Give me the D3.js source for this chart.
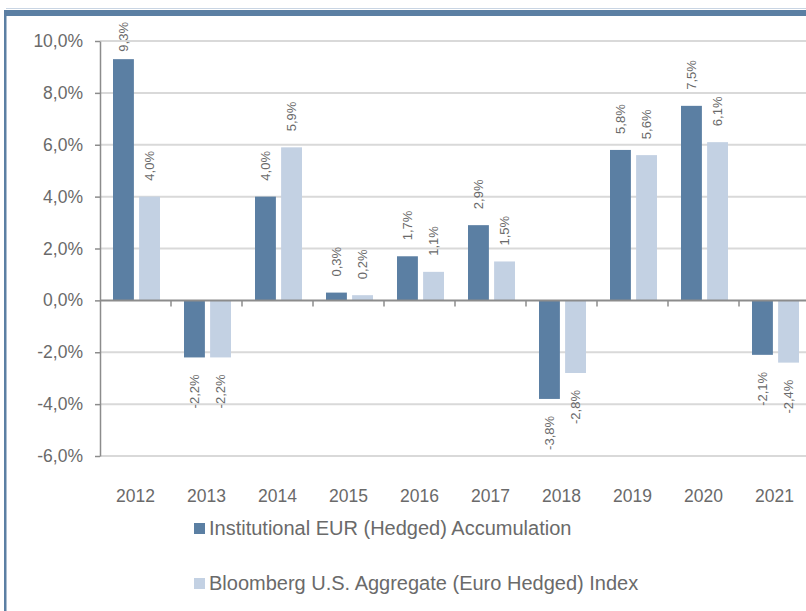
<!DOCTYPE html>
<html>
<head>
<meta charset="utf-8">
<script src="https://cdn.jsdelivr.net/npm/d3@7"></script>
<style>
  body { margin: 0; background: #fff; }
  svg { display: block; font-family: "Liberation Sans", Arial, sans-serif; }
</style>
</head>
<body>
<svg id="chart" width="806" height="611"></svg>
<script>
const years = ["2012", "2013", "2014", "2015", "2016", "2017", "2018", "2019", "2020", "2021"];
const seriesNames = ["Institutional EUR (Hedged) Accumulation", "Bloomberg U.S. Aggregate (Euro Hedged) Index"];
const fundValues = [9.3, -2.2, 4.0, 0.3, 1.7, 2.9, -3.8, 5.8, 7.5, -2.1];
const indexValues = [4.0, -2.2, 5.9, 0.2, 1.1, 1.5, -2.8, 5.6, 6.1, -2.4];
const yTicks = [-6, -4, -2, 0, 2, 4, 6, 8, 10];

const colors = ["#5b7fa3", "#c3d1e3"];
const textColor = "#6a6a6a";
const width = 806, height = 611;

// comma decimals, plain hyphen for negatives
const fmt = v => d3.format(".1f")(v).replace(".", ",").replace("\u2212", "-") + "%";

const svg = d3.select("#chart");

// frame: thin line, thick band on top, left border
svg.append("rect").attr("x", 6).attr("y", 8).attr("width", width).attr("height", 1).attr("fill", "#c9d5e3");
svg.append("rect").attr("x", 4).attr("y", 10).attr("width", width).attr("height", 6).attr("fill", colors[0]);
svg.append("rect").attr("x", 4).attr("y", 10).attr("width", 2.5).attr("height", height).attr("fill", colors[0]);

const x0 = d3.scaleBand().domain(years).range([100, 810]).padding(0);
const x1 = d3.scaleBand().domain([0, 1]).range([13, 60]).paddingInner(0.2);
const y = d3.scaleLinear().domain([-6, 10]).range([456, 41]);

// gridlines
svg.append("g")
  .selectAll("line")
  .data(yTicks.filter(d => d !== 0))
  .enter().append("line")
  .attr("x1", 100).attr("x2", width)
  .attr("y1", d => y(d)).attr("y2", d => y(d))
  .attr("stroke", "#d9d9d9").attr("stroke-width", 2);

// bars
const data = years.map((yr, i) => ({ year: yr, values: [fundValues[i], indexValues[i]] }));

const groups = svg.append("g").selectAll("g")
  .data(data)
  .enter().append("g")
  .attr("transform", d => "translate(" + x0(d.year) + ",0)");

groups.selectAll("rect")
  .data(d => d.values.map((v, k) => ({ k: k, v: v })))
  .enter().append("rect")
  .attr("x", d => x1(d.k))
  .attr("width", x1.bandwidth())
  .attr("y", d => Math.min(y(d.v), y(0)))
  .attr("height", d => Math.abs(y(d.v) - y(0)))
  .attr("fill", d => colors[d.k]);

// value labels, rotated
groups.selectAll("text")
  .data(d => d.values.map((v, k) => ({ k: k, v: v })))
  .enter().append("text")
  .attr("font-size", 13)
  .attr("fill", textColor)
  .attr("dy", "0.35em")
  .attr("text-anchor", d => d.v >= 0 ? "start" : "end")
  .text(d => fmt(d.v))
  .each(function(d) {
    const len = this.getComputedTextLength();
    const cx = x1(d.k) + x1.bandwidth() / 2;
    const py = d.v >= 0 ? Math.max(y(d.v) - 16, 22 + len) : y(d.v) + 17;
    d3.select(this).attr("transform", "translate(" + cx + "," + py + ") rotate(-90)");
  });

// y axis
const yAxis = svg.append("g")
  .attr("transform", "translate(100,0)")
  .call(d3.axisLeft(y).tickValues(yTicks).tickFormat(fmt).tickSize(5).tickSizeOuter(0).tickPadding(12));
yAxis.select(".domain").attr("stroke", "#8c8c8c").attr("stroke-width", 1.5);
yAxis.selectAll(".tick line").attr("stroke", "#8c8c8c").attr("stroke-width", 1.5);
yAxis.selectAll(".tick text").attr("font-size", 17.5).attr("fill", textColor).attr("font-family", "Liberation Sans, Arial, sans-serif");

// zero line with category ticks
svg.append("line")
  .attr("x1", 100).attr("x2", width)
  .attr("y1", y(0)).attr("y2", y(0))
  .attr("stroke", "#8c8c8c").attr("stroke-width", 2);
svg.append("g").selectAll("line")
  .data(years.slice(1))
  .enter().append("line")
  .attr("x1", d => x0(d)).attr("x2", d => x0(d))
  .attr("y1", y(0)).attr("y2", y(0) + 6)
  .attr("stroke", "#8c8c8c").attr("stroke-width", 1.5);

// year labels
svg.append("g").selectAll("text")
  .data(years)
  .enter().append("text")
  .attr("x", d => x0(d) + x0.bandwidth() / 2)
  .attr("y", 502)
  .attr("text-anchor", "middle")
  .attr("font-size", 17.5)
  .attr("fill", textColor)
  .text(d => d);

// legend
const legend = svg.append("g").selectAll("g")
  .data(seriesNames)
  .enter().append("g")
  .attr("transform", (d, i) => "translate(194," + (523 + i * 55) + ")");
legend.append("rect")
  .attr("width", 11).attr("height", 11)
  .attr("fill", (d, i) => colors[i]);
legend.append("text")
  .attr("x", 15).attr("y", 12)
  .attr("font-size", 20)
  .attr("fill", textColor)
  .text(d => d);
</script>
</body>
</html>
